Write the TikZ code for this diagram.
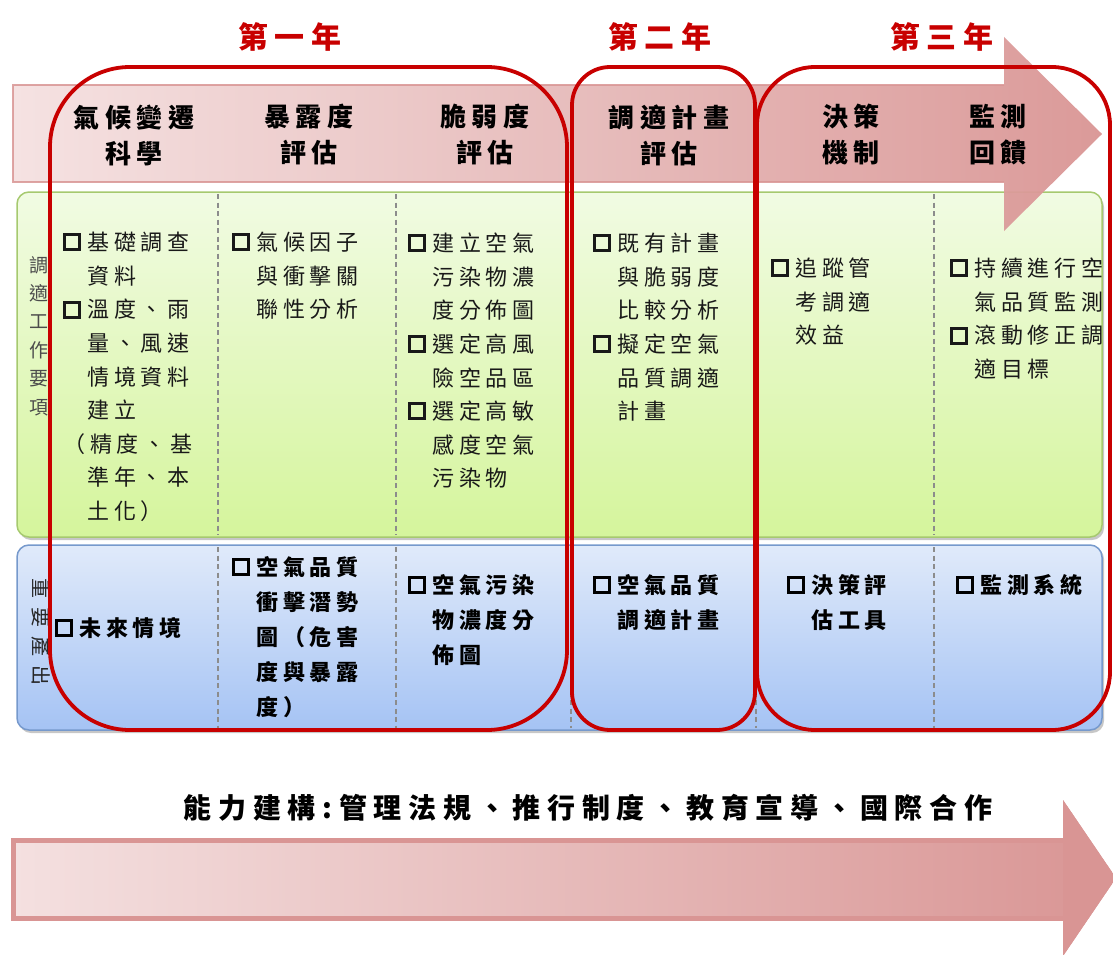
\documentclass[tikz,border=0pt]{standalone}
\usepackage{fontspec}
\newfontfamily\cjk[LetterSpace=22]{Noto Sans CJK TC}
\definecolor{yrred}{HTML}{C80000}
\definecolor{pinkL}{HTML}{F4E0E0}
\definecolor{pinkD}{HTML}{D99594}
\definecolor{grnT}{HTML}{F1FBE3}
\definecolor{grnB}{HTML}{D5F59C}
\definecolor{grnE}{HTML}{A6C96F}
\definecolor{bluT}{HTML}{E0EAFA}
\definecolor{bluB}{HTML}{A5C3F4}
\definecolor{bluE}{HTML}{7699CC}
\newcommand{\cb}{\raisebox{2.4pt}{\setlength{\fboxrule}{3pt}\setlength{\fboxsep}{0pt}\fbox{\rule{0pt}{12pt}\rule{12pt}{0pt}}}\hspace*{6pt}}
\newcommand{\ind}{\hspace*{24pt}}
\begin{document}
\begin{tikzpicture}[x=1pt,y=-1pt,
  yearbox/.style={draw=yrred, line width=3.8pt, rounded corners=#1},
  sepline/.style={draw=gray!90, dash pattern=on 5pt off 3.5pt, line width=1.1pt},
  hdr/.style={font=\cjk\bfseries\fontsize{26}{36}\selectfont, align=center, inner sep=0pt, text=black},
  yr/.style={text=yrred, font=\cjk\bfseries\fontsize{30}{36}\selectfont, inner sep=0pt},
  cell/.style={anchor=north west, inner sep=0pt, align=left, text=black!90, font=\cjk\fontsize{22}{33.6}\selectfont},
  outcell/.style={anchor=north west, inner sep=0pt, align=left, text=black, font=\cjk\bfseries\fontsize{22}{35}\selectfont},
  sidelab/.style={inner sep=0pt, align=center, text=black!70, font=\cjk\fontsize{19}{28.4}\selectfont}
]
\useasboundingbox (0,0) rectangle (1113,955);

% green row
\fill[black!22, rounded corners=12pt] (19,195) rectangle (1104,540);
\shade[top color=grnT, bottom color=grnB, rounded corners=12pt] (17,192) rectangle (1102,537);
\draw[grnE, line width=1.5pt, rounded corners=12pt] (17,192) rectangle (1102,537);
% blue row
\fill[black!22, rounded corners=12pt] (19,547) rectangle (1104,733);
\shade[top color=bluT, bottom color=bluB, rounded corners=12pt] (17,545) rectangle (1102,730);
\draw[bluE, line width=1.5pt, rounded corners=12pt] (17,545) rectangle (1102,730);

% column separators
\foreach \xx in {218,396,571,756,934}{
  \draw[sepline] (\xx,194) -- (\xx,535);
  \draw[sepline] (\xx,547) -- (\xx,728);
}

% top arrow
\shade[left color=pinkL, right color=pinkD, fill opacity=0.95]
  (13,85) -- (1004,85) -- (1004,37) -- (1102,134) -- (1004,231) -- (1004,182) -- (13,182) -- cycle;
\draw[pinkD, line width=2.5pt, opacity=0.85]
  (1004,85) -- (13,85) -- (13,182) -- (1004,182);

% bottom arrow
\shade[left color=pinkL, right color=pinkD]
  (13,840) -- (1063,840) -- (1063,800) -- (1116,878) -- (1063,956) -- (1063,918) -- (13,918) -- cycle;
\draw[pinkD, line width=5pt]
  (1063,840) -- (13,840) -- (13,918) -- (1063,918);
\fill[pinkD] (1063,837.5) -- (1063,800) -- (1116,878) -- (1063,956) -- (1063,920.5) -- cycle;

% year labels
\node[yr] (y1) at (290,37) {第一年};
\node[yr] (y2) at (660,37) {第二年};
\node[yr] (y3) at (942,37) {第三年};

% headers
\node[hdr] (h1) at (134,135) {氣候變遷\\科學};
\node[hdr] (h2) at (309,135) {暴露度\\評估};
\node[hdr] (h3) at (485,135) {脆弱度\\評估};
\node[hdr] (h4) at (669,135) {調適計畫\\評估};
\node[hdr] (h5) at (851,135) {決策\\機制};
\node[hdr] (h6) at (998,135) {監測\\回饋};

% side labels
\node[sidelab] (lab1) at (39,336) {調\\適\\工\\作\\要\\項};
\node[sidelab, text=black!85, rotate=-90, font=\cjk\fontsize{20}{24}\addfontfeatures{LetterSpace=45}\selectfont] (lab2) at (41,632) {重要產出};

% green cells
\node[cell] (g1) at (63,227) {\strut\cb 基礎調查\\\ind 資料\\\cb 溫度、雨\\\ind 量、風速\\\ind 情境資料\\\ind 建立\\（精度、基\\\ind 準年、本\\\ind 土化）};
\node[cell] (g2) at (232,227) {\strut\cb 氣候因子\\\ind 與衝擊關\\\ind 聯性分析};
\node[cell] (g3) at (408,228) {\strut\cb 建立空氣\\\ind 污染物濃\\\ind 度分佈圖\\\cb 選定高風\\\ind 險空品區\\\cb 選定高敏\\\ind 感度空氣\\\ind 污染物};
\node[cell] (g4) at (593,228) {\strut\cb 既有計畫\\\ind 與脆弱度\\\ind 比較分析\\\cb 擬定空氣\\\ind 品質調適\\\ind 計畫};
\node[cell] (g5) at (771,253) {\strut\cb 追蹤管\\\ind 考調適\\\ind 效益};
\node[cell] (g6) at (950,253) {\strut\cb 持續進行空\\\ind 氣品質監測\\\cb 滾動修正調\\\ind 適目標};

% blue cells
\node[outcell] (b1) at (55,612) {\strut\cb 未來情境};
\node[outcell] (b2) at (232,551) {\strut\cb 空氣品質\\\ind 衝擊潛勢\\\ind 圖（危害\\\ind 度與暴露\\\ind 度）};
\node[outcell] (b3) at (408,569) {\strut\cb 空氣污染\\\ind 物濃度分\\\ind 佈圖};
\node[outcell] (b4) at (593,569) {\strut\cb 空氣品質\\\ind 調適計畫};
\node[outcell] (b5) at (787,569) {\strut\cb 決策評\\\ind 估工具};
\node[outcell] (b6) at (956,569) {\strut\cb 監測系統};

% year boxes
\draw[yearbox=80pt] (50,67) rectangle (567,730);
\draw[yearbox=38pt] (572,67) rectangle (755,730);
\draw[yearbox=58pt] (757,67) rectangle (1110,730);

% capacity building caption
\node[inner sep=0pt, text=black, font=\cjk\bfseries\fontsize{28}{32}\addfontfeatures{LetterSpace=24}\selectfont] (cap) at (588,808) {能力建構:管理法規、推行制度、教育宣導、國際合作};
\end{tikzpicture}
\end{document}
